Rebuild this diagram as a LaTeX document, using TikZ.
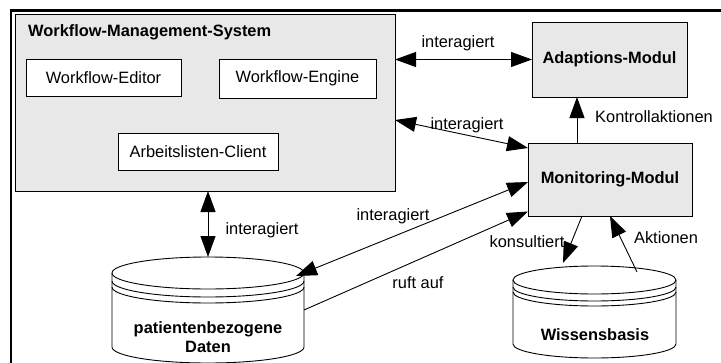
\documentclass[tikz,border=0pt]{standalone}
\usepackage{fontspec}
\setmainfont{Liberation Sans}
\usetikzlibrary{arrows.meta,calc}
\definecolor{boxgray}{RGB}{232,232,232}
\tikzset{
  box/.style={draw, line width=0.9pt, outer sep=0pt, inner sep=0pt},
  lbl/.style={inner sep=0pt},
  tip/.tip={Triangle[length=21pt,width=15pt]},
  arr/.style={line width=0.9pt, -tip},
  dbl/.style={line width=0.9pt, tip-tip},
  cyl/.style={draw, line width=0.9pt, fill=white}
}
\begin{document}
\begin{tikzpicture}[x=1pt,y=-1pt,font=\fontsize{16.4}{19}\selectfont]
\useasboundingbox (0,0) rectangle (721,362);
% outer frame
\draw[line width=2.5pt] (11,380) -- (11,10.5) -- (740,10.5);
% Workflow-Management-System
\node[box, fill=boxgray, minimum width=380pt, minimum height=177pt] (wms) at (205,102.5) {};
\node[lbl, anchor=west, font=\fontsize{16.4}{19}\selectfont\bfseries] (wmst) at (28,32) {Workflow-Management-System};
\node[box, fill=white, minimum width=155pt, minimum height=37pt] (edit) at (103.5,77.5) {Workflow-Editor};
\node[box, fill=white, minimum width=157pt, minimum height=39pt] (engine) at (297.5,78.5) {Workflow-Engine};
\node[box, fill=white, minimum width=160pt, minimum height=37pt] (client) at (198,151.5) {Arbeitslisten-Client};
% modules
\node[box, fill=boxgray, minimum width=155pt, minimum height=75pt, font=\fontsize{16.4}{19}\selectfont\bfseries] (adapt) at (609.5,59.5) {Adaptions-Modul};
\node[box, fill=boxgray, minimum width=164pt, minimum height=73pt, font=\fontsize{16.4}{19}\selectfont\bfseries] (mon) at (610,179.5) {Monitoring-Modul};
% cylinder: patientenbezogene Daten
\path[cyl] (112,273) -- (112,347) arc[start angle=180,end angle=360,x radius=96pt,y radius=16pt] -- (304,273) arc[start angle=0,end angle=180,x radius=96pt,y radius=16pt] -- cycle;
\draw[line width=0.9pt] (112,273) arc[start angle=180,end angle=360,x radius=96pt,y radius=16pt];
\draw[line width=0.9pt] (112,281) arc[start angle=180,end angle=360,x radius=96pt,y radius=16pt];
\draw[line width=0.9pt] (112,287) arc[start angle=180,end angle=360,x radius=96pt,y radius=16pt];
\node[lbl, align=center, font=\fontsize{16.4}{19}\selectfont\bfseries] (pd) at (208,337.5) {patientenbezogene\\Daten};
\coordinate (pdtop) at (208,257);
\coordinate (pdne) at (296,276);
\coordinate (pdr) at (304,310);
% cylinder: Wissensbasis
\path[cyl] (513,280) -- (513,344) arc[start angle=180,end angle=360,x radius=81.5pt,y radius=14pt] -- (676,280) arc[start angle=0,end angle=180,x radius=81.5pt,y radius=14pt] -- cycle;
\draw[line width=0.9pt] (513,280) arc[start angle=180,end angle=360,x radius=81.5pt,y radius=14pt];
\draw[line width=0.9pt] (513,287) arc[start angle=180,end angle=360,x radius=81.5pt,y radius=14pt];
\draw[line width=0.9pt] (513,292) arc[start angle=180,end angle=360,x radius=81.5pt,y radius=14pt];
\node[lbl, font=\fontsize{16.4}{19}\selectfont\bfseries] (wb) at (595,335) {Wissensbasis};
\coordinate (wbin) at (563,263);
\coordinate (wbout) at (637,272);
% connectors
\draw[dbl] (wms.east |- adapt.west) -- (adapt.west);
\draw[dbl] (wms.east |- 0,120) -- ([yshift=-5pt]mon.north west);
\draw[arr] ([xshift=-33pt]mon.north) -- ([xshift=-33pt]mon.north |- adapt.south);
\draw[dbl] (pdtop |- wms.south) -- (pdtop);
\draw[dbl] (pdne) -- ([yshift=-2.5pt]mon.west);
\draw[arr] (pdr) -- ([yshift=-32pt]mon.west);
\draw[arr] ([xshift=-28pt]mon.south) -- (wbin);
\draw[arr] (wbout) -- (mon.south);
% labels
\node[lbl] (l1) at (458,43) {interagiert};
\node[lbl] (l2) at (467,125) {interagiert};
\node[lbl] (l3) at (654,117) {Kontrollaktionen};
\node[lbl] (l4) at (262,230) {interagiert};
\node[lbl] (l5) at (393,216) {interagiert};
\node[lbl] (l6) at (418,283) {ruft auf};
\node[lbl] (l7) at (527,242) {konsultiert};
\node[lbl] (l8) at (666,238) {Aktionen};
\end{tikzpicture}
\end{document}
